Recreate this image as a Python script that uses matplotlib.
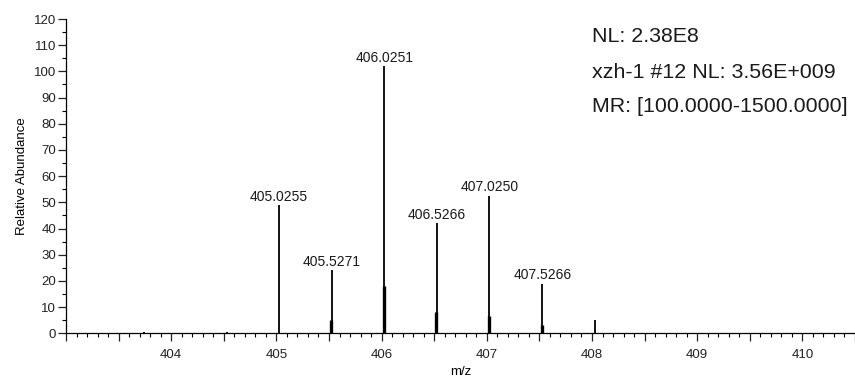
import matplotlib
matplotlib.use("Agg")
import matplotlib.pyplot as plt
from matplotlib.ticker import MultipleLocator, FuncFormatter

plt.rcParams['font.family'] = ['Liberation Sans', 'DejaVu Sans']

# --- data ---
peak_mz = [403.74, 404.53, 405.0255, 405.5271, 406.0251, 406.5266, 407.0250, 407.5266, 408.03]
peak_int = [0.6, 0.6, 49.0, 24.0, 102.0, 42.0, 52.5, 19.0, 5.0]
peak_labels = ["", "", "405.0255", "405.5271", "406.0251", "406.5266", "407.0250", "407.5266", ""]
shoulder_mz = [405.521, 406.019, 406.520, 407.019, 407.521]
shoulder_int = [5.0, 18.0, 8.0, 6.5, 3.0]
x_tick_labels = [404, 405, 406, 407, 408, 409, 410]
header_lines = ["NL: 2.38E8", "xzh-1 #12 NL: 3.56E+009", "MR: [100.0000-1500.0000]"]
x_label = "m/z"
y_label = "Relative Abundance"

W, H = 855, 378
fig = plt.figure(figsize=(W / 100, H / 100), dpi=100)
ax = fig.add_axes([66 / W, 1 - 333.3 / H, (W - 66) / W, (333.3 - 19) / H])

ax.vlines(peak_mz, 0, peak_int, color='black', linewidth=1.3)
ax.vlines(shoulder_mz, 0, shoulder_int, color='black', linewidth=2.4)
for mz, inten, lab in zip(peak_mz, peak_int, peak_labels):
    if lab:
        ax.annotate(lab, (mz, inten), xytext=(0, 1), textcoords='offset points',
                    ha='center', va='bottom', fontsize=10, color='#1a1a1a')

ax.set_xlim(403.0, 410.5)
ax.set_ylim(0, 120)


def fmt_x(v, p):
    for t in x_tick_labels:
        if abs(v - t) < 1e-6:
            return str(t)
    return ""


ax.xaxis.set_major_locator(MultipleLocator(0.5))
ax.xaxis.set_minor_locator(MultipleLocator(0.1))
ax.xaxis.set_major_formatter(FuncFormatter(fmt_x))
ax.yaxis.set_major_locator(MultipleLocator(10))
ax.yaxis.set_minor_locator(MultipleLocator(5))

for s in ['top', 'right']:
    ax.spines[s].set_visible(False)
for s in ['left', 'bottom']:
    ax.spines[s].set_linewidth(0.9)

ax.tick_params(axis='both', which='major', direction='out', length=6, width=0.9, labelsize=9.5, colors='#222222')
ax.tick_params(axis='both', which='minor', direction='out', length=3, width=0.8)
ax.tick_params(axis='x', which='major', pad=5)
ax.tick_params(axis='y', which='major', pad=1)

ax.set_xlabel(x_label, fontsize=9.5, labelpad=4)
ax.set_ylabel(y_label, fontsize=9.5, labelpad=4)

for i, line in enumerate(header_lines):
    fig.text(592 / W, 1 - (37 + 35 * i) / H, line, ha='left', va='center', fontsize=15.4, color='#1a1a1a')

fig.savefig("out.png", dpi=100)
